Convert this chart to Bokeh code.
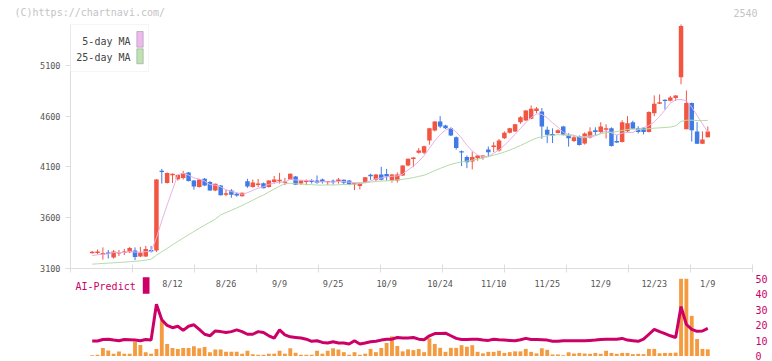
import numpy as np
from bokeh.plotting import figure
from bokeh.models import (Range1d, LinearAxis, FixedTicker, ColumnDataSource, Label,
                          BoxAnnotation, CustomJSTickFormatter)
from bokeh.embed import file_html
from bokeh.resources import INLINE

# ---------------- data ----------------
jul = [18, 22, 23, 24, 25, 28, 29, 30, 31]
aug = [1, 4, 5, 6, 7, 8, 12, 13, 14, 15, 18, 19, 20, 21, 22, 25, 26, 27, 28, 29]
sep = [1, 2, 3, 4, 5, 8, 9, 10, 11, 12, 16, 17, 18, 19, 22, 24, 25, 26, 29, 30]
octo = [1, 2, 3, 6, 7, 8, 9, 10, 14, 15, 16, 17, 20, 21, 22, 23, 24, 27, 28, 29, 30, 31]
nov = [4, 5, 6, 7, 10, 11, 12, 13, 14, 17, 18, 19, 20, 21, 25, 26, 27, 28]
dec = [1, 2, 3, 4, 5, 8, 9, 10, 11, 12, 15, 16, 17, 18, 19, 22, 23, 24, 25, 26, 29, 30]
jan = [5, 6, 7, 8, 9]
dates = ([f"7/{d}" for d in jul] + [f"8/{d}" for d in aug] + [f"9/{d}" for d in sep] +
         [f"10/{d}" for d in octo] + [f"11/{d}" for d in nov] + [f"12/{d}" for d in dec] +
         [f"1/{d}" for d in jan])

label_dates = ["8/12", "8/26", "9/9", "9/25", "10/9", "10/24", "11/10", "11/25", "12/9", "12/23", "1/9"]
price_ticks = [3100, 3600, 4100, 4600, 5100]
vol_ticks = [0, 10, 20, 30, 40, 50]

opens = [3250, 3255, 3240, 3250, 3205, 3250, 3250, 3258, 3275, 3215,
         3215, 3280, 3275, 4060, 3940, 4020, 3978, 3990, 4045, 3965,
         3900, 3982, 3950, 3867, 3916, 3830, 3867, 3835, 3810, 3958,
         3900, 3925, 3939, 3900, 3950, 3960, 3945, 3975, 4005, 3935,
         3955, 3960, 3965, 3975, 3952, 3960, 3956, 3972, 3965, 3930,
         3910, 3943, 4020, 3972, 4025, 4030, 3965, 3965, 4015, 4114,
         4180, 4240, 4240, 4360, 4458, 4547, 4508, 4482, 4393, 4250,
         4196, 4153, 4186, 4190, 4272, 4300, 4262, 4383, 4436, 4450,
         4541, 4557, 4574, 4650, 4645, 4466, 4425, 4433, 4498, 4416,
         4355, 4405, 4330, 4390, 4460, 4443, 4470, 4482, 4350, 4344,
         4452, 4541, 4482, 4486, 4443, 4630, 4723, 4760, 4752, 4780,
         4985, 4470, 4730, 4450, 4327, 4393]
highs = [3270, 3285, 3305, 3280, 3280, 3280, 3290, 3310, 3305, 3310,
         3320, 3320, 3980, 4080, 4045, 4035, 4025, 4060, 4048, 3968,
         3978, 3990, 3960, 3935, 3920, 3875, 3880, 3845, 3846, 3982,
         3975, 3980, 3945, 3968, 4010, 4040, 3990, 4035, 4010, 3968,
         3975, 3980, 4015, 3985, 3960, 3975, 3990, 3975, 3968, 3940,
         3945, 4000, 4032, 4030, 4100, 4080, 4030, 4045, 4115, 4182,
         4196, 4285, 4310, 4485, 4550, 4600, 4515, 4490, 4400, 4262,
         4212, 4250, 4215, 4215, 4300, 4344, 4375, 4450, 4485, 4525,
         4600, 4660, 4705, 4690, 4680, 4498, 4480, 4470, 4505, 4432,
         4410, 4410, 4440, 4490, 4490, 4540, 4520, 4490, 4415, 4560,
         4600, 4555, 4500, 4490, 4648, 4805, 4815, 4765, 4800, 4807,
         5505, 4853, 4735, 4541, 4450, 4498]
lows = [3245, 3240, 3185, 3195, 3195, 3220, 3230, 3250, 3180, 3210,
        3210, 3255, 3260, 3935, 3935, 3940, 3965, 3975, 3955, 3875,
        3895, 3910, 3865, 3860, 3818, 3810, 3795, 3805, 3808, 3893,
        3895, 3900, 3888, 3895, 3935, 3935, 3920, 3970, 3920, 3920,
        3918, 3935, 3933, 3935, 3920, 3925, 3935, 3925, 3918, 3870,
        3877, 3940, 3972, 3960, 3965, 3965, 3945, 3945, 4010, 4105,
        4097, 4230, 4225, 4318, 4450, 4482, 4475, 4405, 4270, 4107,
        4087, 4075, 4160, 4170, 4196, 4245, 4250, 4375, 4430, 4445,
        4525, 4555, 4570, 4630, 4377, 4334, 4335, 4430, 4410, 4300,
        4345, 4310, 4320, 4380, 4410, 4435, 4380, 4300, 4335, 4340,
        4440, 4470, 4430, 4420, 4440, 4600, 4720, 4665, 4745, 4750,
        4915, 4470, 4350, 4325, 4325, 4390]
closes = [3260, 3260, 3245, 3245, 3265, 3255, 3265, 3300, 3210, 3255,
          3290, 3265, 3975, 4050, 4040, 4030, 4020, 4040, 3960, 3905,
          3975, 3916, 3867, 3933, 3820, 3835, 3825, 3818, 3844, 3906,
          3946, 3930, 3890, 3965, 3975, 3970, 3952, 4032, 3923, 3965,
          3958, 3955, 3942, 3950, 3956, 3952, 3975, 3942, 3920, 3935,
          3943, 3998, 4008, 4025, 3972, 4005, 4025, 4025, 4114, 4180,
          4190, 4262, 4304, 4482, 4547, 4498, 4482, 4410, 4285, 4245,
          4145, 4196, 4212, 4212, 4245, 4308, 4360, 4436, 4482, 4520,
          4590, 4656, 4673, 4675, 4498, 4416, 4410, 4460, 4416, 4383,
          4393, 4315, 4430, 4450, 4445, 4498, 4476, 4305, 4344, 4541,
          4531, 4476, 4443, 4445, 4640, 4723, 4738, 4752, 4785, 4805,
          5490, 4730, 4460, 4327, 4370, 4450]
# moving averages: values that cannot be derived from the closes above are read from the chart
ma5_head = [3225, 3232, 3238, 3242]           # first 4 days (need earlier closes)
ma5_tail = [4765, 4752, 4689, 4607, 4525, 4442]  # last 6 days, as drawn on the chart
ma25_head = [3140, 3143, 3147, 3150, 3153, 3157, 3160, 3164, 3168, 3173, 3180, 3188,
             3228, 3262, 3296, 3330, 3364, 3398, 3430, 3462, 3494, 3524, 3554, 3584]

volume = [0.5, 0.8, 5.2, 3.6, 1.5, 2.9, 1.5, 1.5, 9.3, 7.2,
          2.5, 1.5, 4.6, 23.0, 7.8, 5.2, 4.6, 5.2, 5.2, 6.3,
          5.0, 5.9, 2.5, 4.2, 4.2, 2.7, 2.7, 2.7, 1.5, 3.4,
          1.2, 0.8, 0.8, 1.5, 1.5, 3.4, 1.5, 5.0, 2.1, 0.8,
          0.8, 0.8, 3.4, 1.5, 3.4, 5.0, 4.2, 2.5, 0.8, 2.5,
          0.8, 1.5, 4.6, 2.5, 5.2, 8.4, 12.7, 6.5, 3.0, 4.3,
          3.8, 4.5, 2.5, 11.4, 7.8, 5.3, 2.7, 5.3, 5.3, 7.0,
          6.0, 7.0, 2.7, 1.7, 2.7, 2.7, 3.4, 2.0, 2.5, 3.0,
          3.0, 4.6, 2.7, 1.7, 5.0, 4.0, 1.0, 1.0, 0.5, 2.4,
          1.6, 2.0, 1.6, 1.4, 2.0, 1.4, 3.4, 2.0, 1.4, 2.0,
          2.0, 1.2, 1.4, 1.2, 4.6, 4.6, 1.8, 2.0, 2.0, 2.2,
          50.0, 50.0, 26.0, 11.0, 4.6, 4.3]
ai_predict = [9.7, 9.7, 10.7, 10.9, 10.3, 9.9, 10.7, 10.5, 10.3, 9.9,
              10.7, 10.3, 33.5, 23.5, 19.8, 18.3, 19.3, 16.6, 19.3, 20.2,
              17.3, 14.1, 13.1, 16.2, 15.8, 15.2, 15.8, 16.9, 15.8, 14.1,
              14.1, 15.8, 15.2, 13.1, 11.6, 16.9, 13.7, 12.4, 12.0, 11.6,
              10.9, 9.5, 9.9, 8.8, 8.4, 9.2, 8.4, 8.4, 7.8, 9.9,
              7.8, 8.4, 9.2, 9.6, 10.3, 10.9, 10.9, 12.0, 11.6, 11.6,
              12.0, 10.9, 10.5, 13.1, 14.5, 14.5, 14.8, 13.1, 11.4, 10.7,
              10.7, 10.9, 10.9, 10.3, 10.1, 10.9, 10.5, 10.3, 10.1, 9.9,
              10.5, 11.4, 10.7, 10.7, 10.5, 10.3, 9.6, 9.6, 9.9, 9.9,
              9.9, 9.9, 9.9, 10.1, 10.3, 10.7, 10.9, 10.9, 10.9, 11.4,
              10.3, 9.9, 9.5, 10.9, 14.1, 17.3, 15.8, 14.5, 13.1, 12.0,
              32.0, 20.4, 17.3, 16.0, 16.2, 17.9]

# ---------------- geometry (canvas pixels -> data) ----------------
W, H = 772, 361
CX0, DX = 91.7, 5.353          # x of first candle, candle pitch (px)
PY, PK = 267.7, 0.10135        # y of 3100 yen, px per yen
VZ, VK = 355.5, 1.544          # y of volume 0, px per unit


def sx2x(sx):
    return (sx - CX0) / DX


def sy2p(sy):
    return price_ticks[0] + (PY - sy) / PK


def sy2v(sy):
    return (VZ - sy) / VK


n = len(dates)
x = np.arange(n)
o = np.array(opens, float)
c = np.array(closes, float)
nt = len(ma5_tail)
ma5 = (list(ma5_head) + [c[i - 4:i + 1].mean() for i in range(len(ma5_head), n - nt)]
       + list(ma5_tail))
ma25 = list(ma25_head) + [c[i - 24:i + 1].mean() for i in range(len(ma25_head), n)]

UP, DOWN = "#f25541", "#3f7ae6"
cols = [UP if cc >= oo else DOWN for oo, cc in zip(o, c)]
btop = np.maximum(o, c)
bbot = np.minimum(o, c)
mid = (btop + bbot) / 2
thin = (btop - bbot) < 14
btop = np.where(thin, mid + 7, btop)
bbot = np.where(thin, mid - 7, bbot)

src = ColumnDataSource(dict(x=x, h=highs, l=lows, top=btop, bot=bbot, col=cols,
                            ma5=ma5, ma25=ma25, vol=volume, ai=ai_predict))

MONO = "DejaVu Sans Mono"
p = figure(width=W, height=H, output_backend="svg", toolbar_location=None, title=None,
           x_range=Range1d(sx2x(0), sx2x(W)), y_range=Range1d(sy2p(H), sy2p(0)),
           x_axis_type=None, y_axis_type=None,
           min_border_left=0, min_border_right=0, min_border_top=0, min_border_bottom=0)
p.outline_line_color = None
p.background_fill_color = "white"
p.border_fill_color = "white"
p.extra_y_ranges = {"vol": Range1d(sy2v(H), sy2v(0))}

XL, XR = sx2x(70), sx2x(752)

# volume + AI predict (lower panel)
p.vbar(x="x", width=0.72, top="vol", bottom=0, y_range_name="vol", source=src,
       fill_color="#f49b40", line_color=None)
p.line(x="x", y="ai", y_range_name="vol", source=src, line_color="#cc0066", line_width=3)

# candles
p.segment(x0="x", y0="l", x1="x", y1="h", source=src, line_color="col", line_width=1)
p.vbar(x="x", width=0.84, top="top", bottom="bot", source=src, fill_color="col", line_color=None)

# moving averages
p.line(x="x", y="ma5", source=src, line_color="#e8b0e8", line_width=1)
p.line(x="x", y="ma25", source=src, line_color="#b3dba8", line_width=1)

# axes (all pinned, so the frame can cover the whole canvas)
yax = LinearAxis(ticker=FixedTicker(ticks=price_ticks), bounds=(price_ticks[0], sy2p(24)),
                 fixed_location=XL,
                 axis_line_color="#dddddd", major_tick_line_color="#dddddd",
                 major_tick_in=0, major_tick_out=5, minor_tick_line_color=None,
                 major_label_standoff=5, major_label_text_font=MONO,
                 major_label_text_font_size="8.5px", major_label_text_color="#555555")
p.add_layout(yax, "left")

xtk = LinearAxis(ticker=FixedTicker(ticks=list(np.linspace(XL, XR, 12))),
                 bounds=(XL, XR), fixed_location=price_ticks[0],
                 formatter=CustomJSTickFormatter(code="return ''"),
                 axis_line_color="#dddddd", major_tick_line_color="#dddddd",
                 major_tick_in=4, major_tick_out=4, minor_tick_line_color=None)
p.add_layout(xtk, "below")

label_pos = [dates.index(d) for d in label_dates]
xlab = LinearAxis(ticker=FixedTicker(ticks=label_pos),
                  major_label_overrides={pp: d for pp, d in zip(label_pos, label_dates)},
                  fixed_location=price_ticks[0],
                  axis_line_color=None, major_tick_line_color=None, major_tick_in=0,
                  major_tick_out=0, minor_tick_line_color=None, major_label_standoff=11,
                  major_label_text_font=MONO, major_label_text_font_size="8.5px",
                  major_label_text_color="#555555")
p.add_layout(xlab, "below")

vax = LinearAxis(y_range_name="vol", ticker=FixedTicker(ticks=vol_ticks), fixed_location=XR,
                 axis_line_color=None, major_tick_line_color=None, major_tick_in=0,
                 major_tick_out=0, minor_tick_line_color=None, major_label_standoff=3,
                 major_label_text_font=MONO, major_label_text_font_size="10px",
                 major_label_text_color="#cc0066")
p.add_layout(vax, "right")

# legend (text left, swatch right)
p.add_layout(BoxAnnotation(left=sx2x(70), right=sx2x(148), top=sy2p(24), bottom=sy2p(71),
                           fill_color="white", fill_alpha=1, line_color="#dddddd", line_width=1))
p.add_layout(BoxAnnotation(left=sx2x(136.3), right=sx2x(142.7), top=sy2p(31), bottom=sy2p(46.7),
                           fill_color="#efb8ef", fill_alpha=1, line_color="#555555", line_width=1))
p.add_layout(BoxAnnotation(left=sx2x(136.3), right=sx2x(142.7), top=sy2p(48.3), bottom=sy2p(63.3),
                           fill_color="#bfe2b3", fill_alpha=1, line_color="#555555", line_width=1))
for txt, sy in [("5-day MA", 40.5), ("25-day MA", 57)]:
    p.add_layout(Label(x=sx2x(130), y=sy2p(sy), text=txt, text_align="right",
                       text_baseline="middle", text_font=MONO, text_font_size="10px",
                       text_color="#444444"))

# AI-Predict label
p.add_layout(Label(x=sx2x(75), y=sy2p(286), text="AI-Predict", text_align="left",
                   text_baseline="middle", text_font=MONO, text_font_size="10px",
                   text_color="#cc0066"))
p.add_layout(BoxAnnotation(left=sx2x(142.3), right=sx2x(149), top=sy2p(276.7), bottom=sy2p(293.3),
                           fill_color="#cc0066", fill_alpha=1, line_color=None))

# header texts
p.add_layout(Label(x=sx2x(14), y=sy2p(12), text="(C)https://chartnavi.com/", text_align="left",
                   text_baseline="middle", text_font=MONO, text_font_size="10px",
                   text_color="#c4c4c4"))
p.add_layout(Label(x=sx2x(757), y=sy2p(12), text="2540", text_align="right",
                   text_baseline="middle", text_font=MONO, text_font_size="10px",
                   text_color="#c4c4c4"))

open("out.html", "w").write(file_html(p, INLINE))
